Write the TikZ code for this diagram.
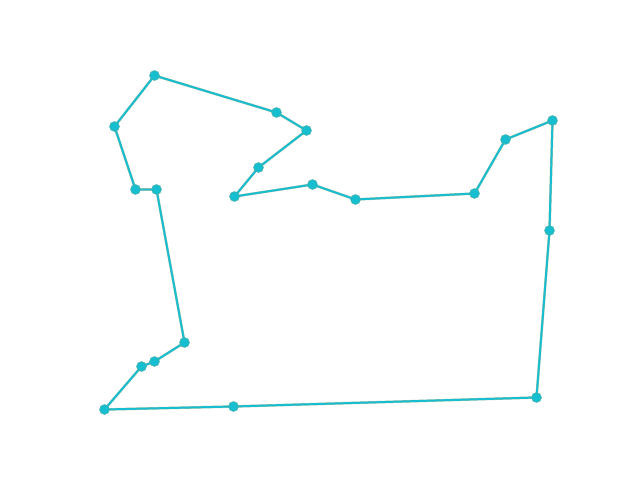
\documentclass[tikz,border=0pt]{standalone}
\usepackage{tikz}
\usetikzlibrary{arrows.meta,positioning,calc,backgrounds}

\definecolor{tourcyan}{HTML}{17BECF}
\definecolor{tourolive}{HTML}{8C9A6E}

\begin{document}
\begin{tikzpicture}[
        x=0.025cm, y=-0.025cm,
        stop/.style={
          circle,
          fill=tourcyan,
          draw=tourolive!50!tourcyan,
          line width=0.3pt,
          inner sep=0pt,
          minimum size=0.25cm
        },
        leg/.style={
          tourcyan,
          line width=1.4pt,
          line join=round
        },
        legshade/.style={
          tourolive,
          line width=1.8pt,
          line join=round,
          opacity=0.6
        }
      ]

        \useasboundingbox (0,0) rectangle (640,480);

        % stops of the tour
        \foreach \name/\px/\py in {p1/154.5/75.5, p2/276.5/112.5, p3/306.5/130.5, p4/258.5/167.5,
            p5/234.5/196.5, p6/312.5/184.5, p7/355.5/199.5, p8/474.5/193.5, p9/505.5/139.5,
            p10/552.5/120.5, p11/549.5/230.5, p12/536.5/397.5, p13/233.5/406.5, p14/104.5/409.5,
            p15/141.5/366.5, p16/154.5/361.5, p17/184.5/342.5, p18/156.5/189.5, p19/135.5/189.5,
            p20/114.5/126.5}
          \node[stop] (\name) at (\px,\py) {};

        \begin{scope}[on background layer]
          \draw[legshade] (p1.center) -- (p2.center) -- (p3.center) -- (p4.center)
            -- (p5.center) -- (p6.center) -- (p7.center) -- (p8.center) -- (p9.center)
            -- (p10.center) -- (p11.center) -- (p12.center) -- (p13.center)
            -- (p14.center) -- (p15.center) -- (p16.center) -- (p17.center)
            -- (p18.center) -- (p19.center) -- (p20.center) -- cycle;
          \draw[leg] (p1.center) -- (p2.center) -- (p3.center) -- (p4.center)
            -- (p5.center) -- (p6.center) -- (p7.center) -- (p8.center) -- (p9.center)
            -- (p10.center) -- (p11.center) -- (p12.center) -- (p13.center)
            -- (p14.center) -- (p15.center) -- (p16.center) -- (p17.center)
            -- (p18.center) -- (p19.center) -- (p20.center) -- cycle;
        \end{scope}

      \end{tikzpicture}
\end{document}
